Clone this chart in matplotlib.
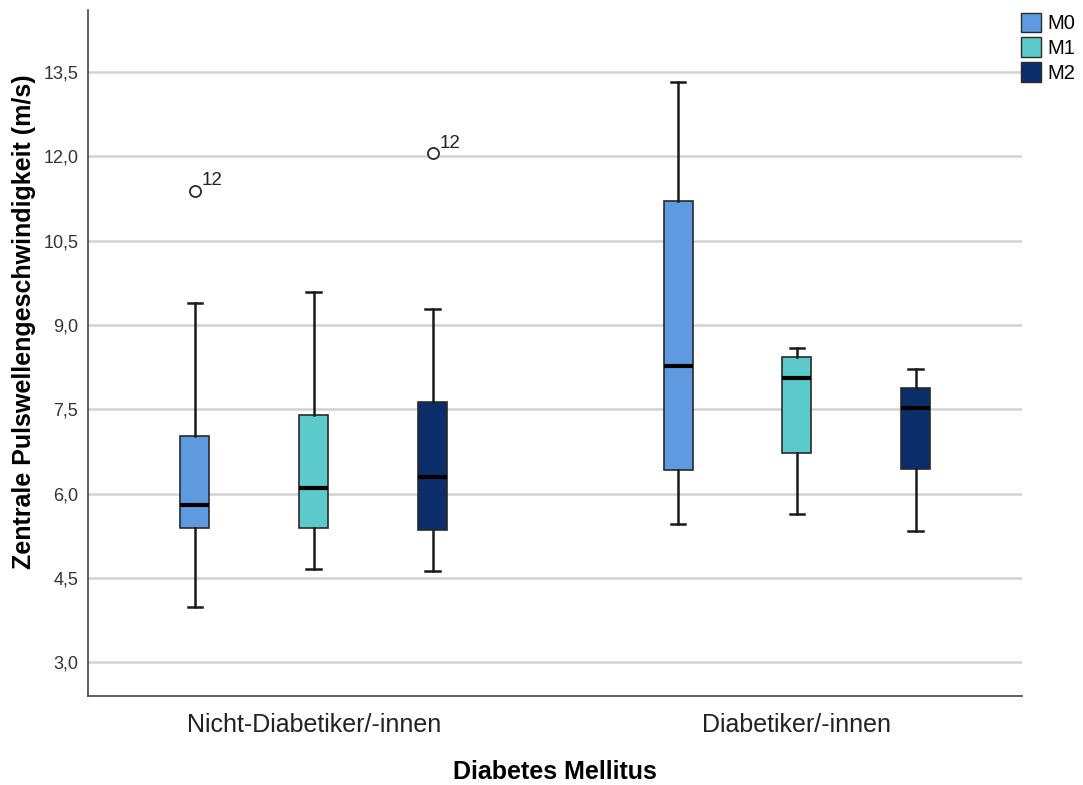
import matplotlib
matplotlib.use("Agg")
import matplotlib.pyplot as plt
from matplotlib.patches import Patch
import numpy as np

plt.rcParams["font.family"] = ["Liberation Sans", "DejaVu Sans"]

# Data (five-number summaries per group / timepoint)
groups = ["Nicht-Diabetiker/-innen", "Diabetiker/-innen"]
series = ["M0", "M1", "M2"]
colors = ["#5f9ae0", "#5ccaca", "#0b2e6b"]

whislo = [[3.98, 4.66, 4.62], [5.45, 5.63, 5.34]]
q1     = [[5.38, 5.38, 5.36], [6.42, 6.73, 6.43]]
med    = [[5.80, 6.09, 6.29], [8.26, 8.05, 7.52]]
q3     = [[7.02, 7.40, 7.62], [11.20, 8.42, 7.87]]
whishi = [[9.39, 9.59, 9.28], [13.32, 8.59, 8.21]]
fliers = [[[11.38], [], [12.05]], [[], [], []]]
flier_labels = [[["12"], [], ["12"]], [[], [], []]]

fig = plt.figure(figsize=(10.83, 7.85), dpi=100)
ax = fig.add_axes([0.0813, 0.1134, 0.8624, 0.8739])

offsets = [-0.246, 0.0, 0.246]
for g in range(len(groups)):
    for s in range(len(series)):
        pos = g + offsets[s]
        stats = [dict(whislo=whislo[g][s], q1=q1[g][s], med=med[g][s],
                      q3=q3[g][s], whishi=whishi[g][s], fliers=fliers[g][s])]
        ax.bxp(stats, positions=[pos], widths=0.06, patch_artist=True,
               showfliers=True, manage_ticks=False,
               boxprops=dict(facecolor=colors[s], edgecolor="#2a2a2a", linewidth=1.2),
               medianprops=dict(color="black", linewidth=3),
               whiskerprops=dict(color="#1a1a1a", linewidth=1.8),
               capprops=dict(color="#1a1a1a", linewidth=1.8),
               capwidths=0.03,
               flierprops=dict(marker="o", markerfacecolor="white",
                               markeredgecolor="#2a2a2a", markersize=8,
                               markeredgewidth=1.3))
        for v, lab in zip(fliers[g][s], flier_labels[g][s]):
            ax.annotate(lab, (pos, v), xytext=(5, 4), textcoords="offset points",
                        fontsize=13.5, color="#222222")

ax.set_xlim(-0.467, 1.466)
ax.set_ylim(2.40, 14.60)
yticks = [3.0, 4.5, 6.0, 7.5, 9.0, 10.5, 12.0, 13.5]
ax.set_yticks(yticks)
ax.set_yticklabels([f"{t:.1f}".replace(".", ",") for t in yticks], fontsize=13, color="#333333")
ax.set_xticks([0, 1])
ax.set_xticklabels(groups, fontsize=18, color="#222222")
ax.tick_params(axis="both", length=0)
ax.tick_params(axis="x", pad=12)
ax.tick_params(axis="y", pad=7)

ax.grid(axis="y", color="#d2d2d2", linewidth=1.8)
ax.set_axisbelow(True)
for side in ["top", "right"]:
    ax.spines[side].set_visible(False)
for side in ["left", "bottom"]:
    ax.spines[side].set_color("#444444")
    ax.spines[side].set_linewidth(1.2)

ax.set_ylabel("Zentrale Pulswellengeschwindigkeit (m/s)", fontsize=18, fontweight="bold")
ax.yaxis.set_label_coords(-0.069, 0.546)
ax.yaxis.label.set_va("center")
ax.set_xlabel("Diabetes Mellitus", fontsize=18, fontweight="bold")
ax.xaxis.set_label_coords(0.5, -0.111)
ax.xaxis.label.set_va("center")

handles = [Patch(facecolor=c, edgecolor="#2a2a2a", label=l) for c, l in zip(colors, series)]
fig.legend(handles=handles, loc="upper right", bbox_to_anchor=(1.006, 1.002),
           frameon=False, fontsize=14.5, handlelength=1.0, handleheight=1.1,
           handletextpad=0.3, labelspacing=0.22, borderaxespad=0.3)

fig.savefig("out.png", dpi=100)
